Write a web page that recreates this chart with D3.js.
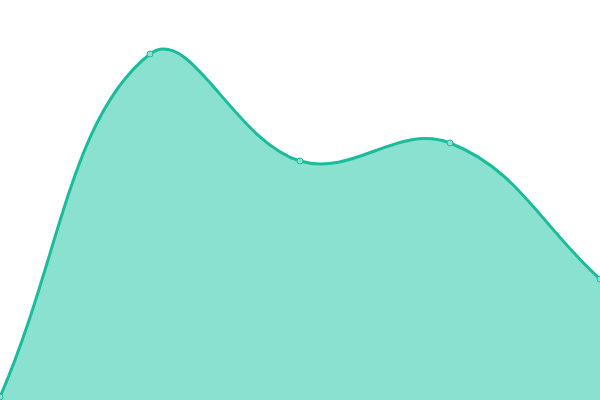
<!DOCTYPE html>
<html>
<head>
<meta charset="utf-8">
<script src="https://cdn.jsdelivr.net/npm/d3@7"></script>
<style>body{margin:0;background:#fff}</style>
</head>
<body>
<script>
var labels = ['A', 'B', 'C', 'D', 'E']
var values = [3, 346, 239, 257, 121]

var width = 600, height = 400
var svg = d3.select('body').append('svg').attr('width', width).attr('height', height)

var x = d3.scalePoint().domain(labels).range([0, width])
var y = d3.scaleLinear().domain([0, 400]).range([height, 0])

var data = labels.map(function(d, i){ return {k: d, v: values[i]} })

// tension spline: control points scaled by distance to neighbours
function curveTension(context) {
    var t = 0.4, pts = [], line
    function flush() {
        var n = pts.length
        if (!n) return
        line ? context.lineTo(pts[0][0], pts[0][1]) : context.moveTo(pts[0][0], pts[0][1])
        var cp = pts.map(function(p, i){
            var a = pts[i - 1] || p, b = pts[i + 1] || p
            var d01 = Math.hypot(p[0] - a[0], p[1] - a[1]), d12 = Math.hypot(b[0] - p[0], b[1] - p[1])
            var s = d01 + d12 || 1
            var fa = t * d01 / s, fb = t * d12 / s
            var c = function(v, lo, hi){ return Math.max(lo, Math.min(hi, v)) }
            return {
                px: c(p[0] - fa * (b[0] - a[0]), 0, width), py: c(p[1] - fa * (b[1] - a[1]), 0, height),
                nx: c(p[0] + fb * (b[0] - a[0]), 0, width), ny: c(p[1] + fb * (b[1] - a[1]), 0, height)
            }
        })
        for (var i = 1; i < n; i++) {
            context.bezierCurveTo(cp[i - 1].nx, cp[i - 1].ny, cp[i].px, cp[i].py, pts[i][0], pts[i][1])
        }
    }
    return {
        areaStart: function(){ line = 0 },
        areaEnd: function(){ line = NaN },
        lineStart: function(){ pts = [] },
        lineEnd: function(){
            flush()
            if (line || (line !== 0 && pts.length === 1)) context.closePath()
            line = 1 - line
        },
        point: function(px, py){ pts.push([+px, +py]) }
    }
}

var area = d3.area().x(function(d){ return x(d.k) }).y0(height).y1(function(d){ return y(d.v) })
    .curve(curveTension)
var line = d3.line().x(function(d){ return x(d.k) }).y(function(d){ return y(d.v) })
    .curve(curveTension)

svg.append('path').datum(data).attr('d', area).attr('fill', '#17c39f').attr('fill-opacity', 0.5)
svg.append('path').datum(data).attr('d', line).attr('fill', 'none').attr('stroke', '#1abc9c').attr('stroke-width', 3)

svg.selectAll('circle').data(data).enter().append('circle')
    .attr('cx', function(d){ return x(d.k) }).attr('cy', function(d){ return y(d.v) })
    .attr('r', 3).attr('fill', '#8de0cf').attr('stroke', '#1abc9c').attr('stroke-width', 1)
</script>
</body>
</html>
